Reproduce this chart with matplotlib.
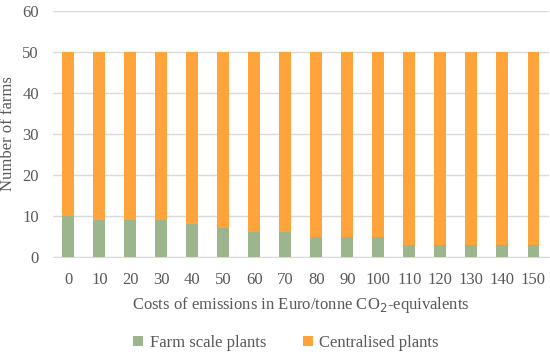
import matplotlib
matplotlib.use("Agg")
import matplotlib.pyplot as plt
import numpy as np

costs = ["0", "10", "20", "30", "40", "50", "60", "70", "80", "90", "100", "110", "120", "130", "140", "150"]
farm_scale = [10, 9, 9, 9, 8, 7, 6, 6, 5, 5, 5, 3, 3, 3, 3, 3]
centralised = [40, 41, 41, 41, 42, 43, 44, 44, 45, 45, 45, 47, 47, 47, 47, 47]

plt.rcParams['font.family'] = ['Liberation Serif', 'DejaVu Serif']

fig = plt.figure(figsize=(5.5, 3.55), dpi=100)
ax = fig.add_axes([0.096, 0.276, 0.902, 0.693])

x = np.arange(len(costs))
w = 0.38
green = "#9CB58C"
orange = "#FFA33B"
ax.bar(x, farm_scale, w, color=green, label="Farm scale plants", zorder=3)
ax.bar(x, centralised, w, bottom=farm_scale, color=orange, label="Centralised plants", zorder=3)

ax.set_ylim(0, 60)
ax.set_yticks(range(0, 61, 10))
ax.set_xlim(-0.5, len(costs) - 0.5)
ax.set_xticks(x)
ax.set_xticklabels(costs)
ax.yaxis.grid(True, color="#D9D9D9", linewidth=1, zorder=0)
for s in ["top", "right", "left"]:
    ax.spines[s].set_visible(False)
ax.spines["bottom"].set_color("#D9D9D9")
ax.tick_params(axis="both", length=0, labelsize=12, colors="#595959")
ax.tick_params(axis="x", pad=11)
ax.tick_params(axis="y", pad=10)

ax.set_ylabel("Number of farms", fontsize=12, color="#595959")
ax.yaxis.set_label_coords(-0.075, 0.5)
ax.set_xlabel("Costs of emissions in Euro/tonne CO$_2$-equivalents", fontsize=12, color="#595959", labelpad=5)

leg = ax.legend(loc="upper center", bbox_to_anchor=(0.47, -0.255), ncol=2, frameon=False,
                fontsize=12, handlelength=0.6, handleheight=0.6, columnspacing=2.2, handletextpad=0.4)
for t in leg.get_texts():
    t.set_color("#595959")

fig.savefig("out.png", dpi=100)
